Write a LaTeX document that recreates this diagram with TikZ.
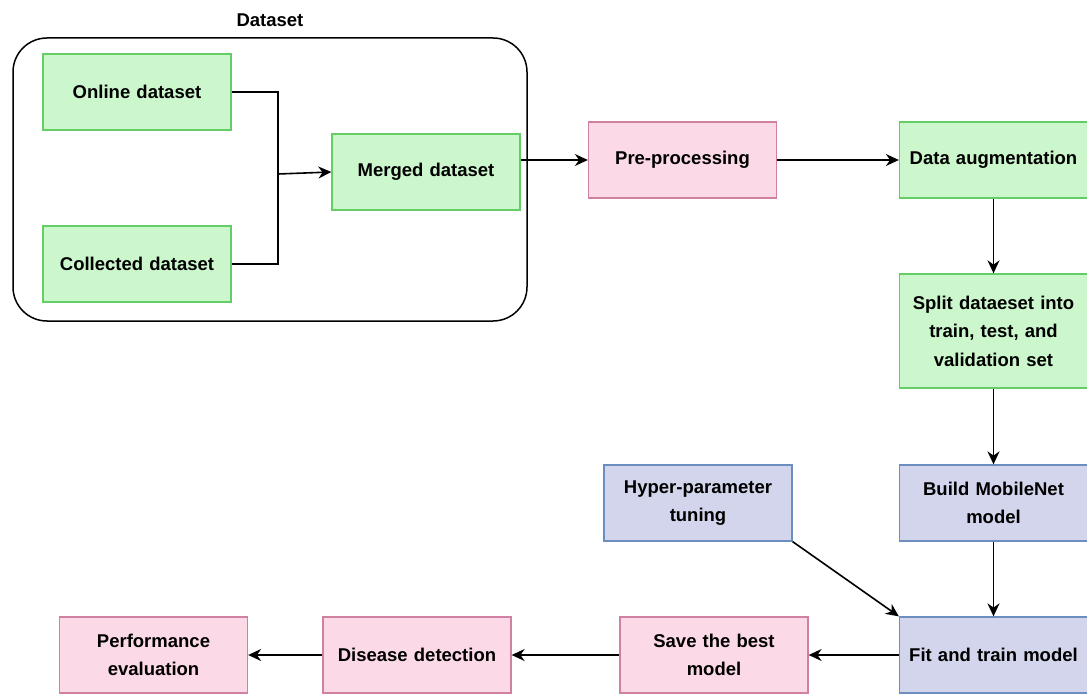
\documentclass[tikz,border=0pt]{standalone}
\usepackage{fontspec}
\setmainfont{Liberation Sans}
\usetikzlibrary{arrows.meta}
\definecolor{gfill}{HTML}{CCF6CC}
\definecolor{gdraw}{HTML}{66CC66}
\definecolor{pfill}{HTML}{FCD9E6}
\definecolor{pdraw}{HTML}{D080A0}
\definecolor{bfill}{HTML}{D2D5EB}
\definecolor{bdraw}{HTML}{6C8EBF}
\begin{document}
\begin{tikzpicture}[x=1pt,y=-1pt,
  every node/.style={font=\fontsize{18.5}{28.5}\selectfont\bfseries, align=center, inner sep=0pt},
  boxbase/.style={minimum width=188pt, minimum height=76pt, line width=1.3pt, text width=186pt},
  gbox/.style={boxbase, fill=gfill, draw=gdraw},
  pbox/.style={boxbase, fill=pfill, draw=pdraw},
  bbox/.style={boxbase, fill=bfill, draw=bdraw},
  arr/.style={-{Stealth[length=13pt,width=12pt]}, line width=1.6pt},
  ln/.style={line width=1.6pt}]
\useasboundingbox (0,0) rectangle (1087,695);
% container
\draw[line width=1.5pt, rounded corners=34pt] (13,38) rectangle (527,321);
\node (dslabel) at (270,20) {Dataset};
\node[gbox] (online) at (137,92) {Online dataset};
\node[gbox] (collected) at (137,264) {Collected dataset};
\node[gbox] (merged) at (426,172) {Merged dataset};
\node[pbox] (pre) at (682.5,160) {Pre-processing};
\node[gbox] (aug) at (993.5,160) {Data augmentation};
\node[gbox, minimum height=114pt] (split) at (993.5,331) {Split dataeset into\\train, test, and\\validation set};
\node[bbox] (hyper) at (698,503) {Hyper-parameter\\tuning};
\node[bbox] (build) at (993.5,503) {Build MobileNet\\model};
\node[bbox] (fit) at (993.5,655) {Fit and train model};
\node[pbox] (save) at (714,655) {Save the best\\model};
\node[pbox] (disease) at (417,655) {Disease detection};
\node[pbox] (perf) at (153.5,655) {Performance\\evaluation};
\coordinate (j) at (278,174);
\draw[ln] (online.east) -| (j) |- (collected.east);
\draw[arr] (j) -- (merged.west);
\draw[arr] (merged.east |- pre.west) -- (pre.west);
\draw[arr] (pre) -- (aug);
\draw[arr] (aug) -- (split);
\draw[arr] (split) -- (build);
\draw[arr] (build) -- (fit);
\draw[arr] (hyper.south east) -- (fit.north west);
\draw[arr] (fit) -- (save);
\draw[arr] (save) -- (disease);
\draw[arr] (disease) -- (perf);
\end{tikzpicture}
\end{document}
